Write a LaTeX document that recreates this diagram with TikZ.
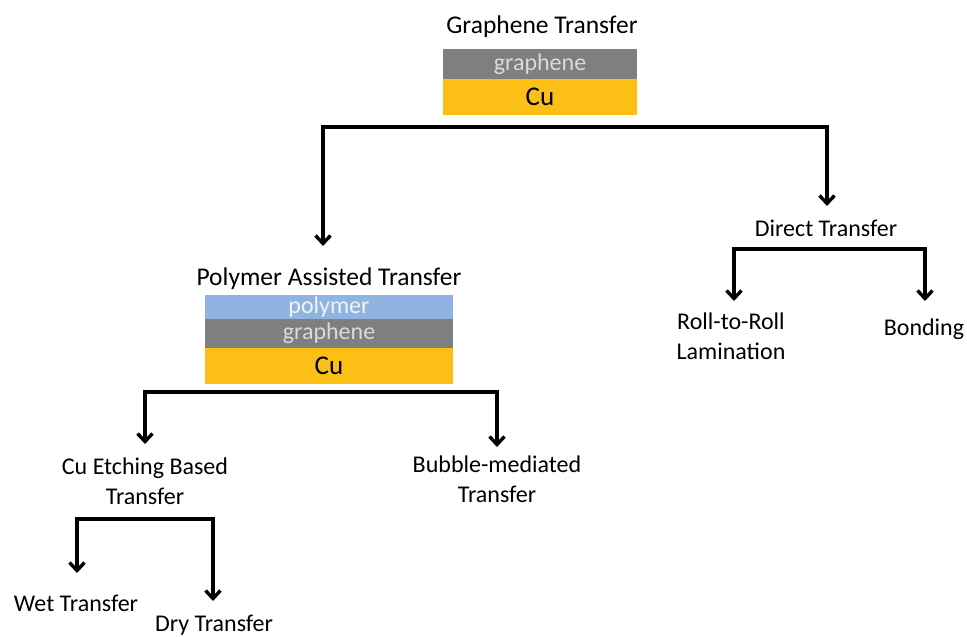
\documentclass[tikz,border=0pt]{standalone}
\usepackage{fontspec}
\setmainfont{Carlito}
\usetikzlibrary{arrows.meta}
\definecolor{grph}{RGB}{127,127,127}
\definecolor{cuc}{RGB}{252,191,22}
\definecolor{poly}{RGB}{143,180,226}
\definecolor{gtxt}{RGB}{218,218,218}
\definecolor{ptxt}{RGB}{242,242,242}
\tikzset{
  lbl/.style={font=\fontsize{24}{30}\selectfont, align=center, inner sep=0pt, anchor=base},
  ttl/.style={font=\fontsize{25.5}{30}\selectfont, inner sep=0pt, anchor=base},
  layer/.style={inner sep=0pt, outer sep=0pt, font=\fontsize{24}{28}\selectfont},
  culayer/.style={layer, fill=cuc, font=\fontsize{27}{30}\selectfont, text=black},
  grlayer/.style={layer, fill=grph, text=gtxt},
  polayer/.style={layer, fill=poly, text=ptxt},
  tip/.tip={Straight Barb[length=8pt,width=15pt,line width=3.4pt]},
  conn/.style={line width=3.4pt, line join=miter, line cap=butt, tip-tip}
}
\begin{document}
\begin{tikzpicture}[x=1pt,y=-1pt]
\useasboundingbox (0,0) rectangle (967,637);
% top stack
\node[ttl] (title) at (542,33) {Graphene Transfer};
\node[grlayer, minimum width=194pt, minimum height=30pt] (g1) at (540,64) {graphene};
\node[culayer, minimum width=194pt, minimum height=36pt] (c1) at (540,97) {Cu};
% middle stack
\node[ttl] (pat) at (329,285) {Polymer Assisted Transfer};
\node[polayer, minimum width=248pt, minimum height=24pt] (p2) at (329,307) {polymer};
\node[grlayer, minimum width=248pt, minimum height=29pt] (g2) at (329,333.5) {graphene};
\node[culayer, minimum width=248pt, minimum height=36pt] (c2) at (329,366) {Cu};
% direct transfer
\node[lbl] (dt) at (826,236) {Direct Transfer};
\node[lbl] (rr) at (731,359) {Roll-to-Roll\\Lamination};
\node[lbl] (bo) at (924,335) {Bonding};
% polymer children
\node[lbl] (ce) at (145,504) {Cu Etching Based\\Transfer};
\node[lbl] (bm) at (497,502) {Bubble-mediated\\Transfer};
% etching children
\node[lbl] (wt) at (76,611) {Wet Transfer};
\node[lbl] (dr) at (214,631) {Dry Transfer};
% connectors
\coordinate (j1a) at (323,127); \coordinate (j1b) at (827,127);
\coordinate (t1a) at (323,246); \coordinate (t1b) at (827,206);
\draw[conn] (t1a) -- (j1a) -- (j1b) -- (t1b);
\coordinate (j2a) at (734,249); \coordinate (j2b) at (925,249);
\coordinate (t2a) at (734,301); \coordinate (t2b) at (925,301);
\draw[conn] (t2a) -- (j2a) -- (j2b) -- (t2b);
\coordinate (j3a) at (145,392); \coordinate (j3b) at (497,392);
\coordinate (t3a) at (145,444); \coordinate (t3b) at (497,447);
\draw[conn] (t3a) -- (j3a) -- (j3b) -- (t3b);
\coordinate (j4a) at (77,519); \coordinate (j4b) at (213,519);
\coordinate (t4a) at (77,573); \coordinate (t4b) at (213,601);
\draw[conn] (t4a) -- (j4a) -- (j4b) -- (t4b);
\end{tikzpicture}
\end{document}
